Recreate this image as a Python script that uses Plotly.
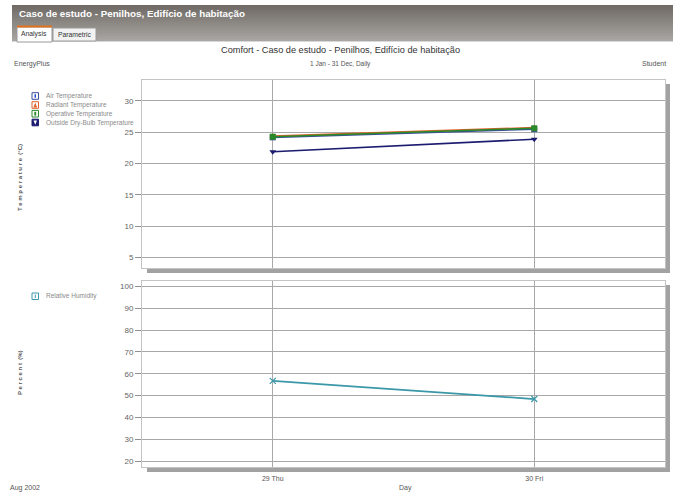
import plotly.graph_objects as go

W, H = 680, 497

# ---- data ----
days = ["29 Thu", "30 Fri"]
temp_names = ["Air Temperature", "Radiant Temperature", "Operative Temperature", "Outside Dry-Bulb Temperature"]
air_temp = [24.2, 25.5]
radiant_temp = [24.4, 25.75]
operative_temp = [24.3, 25.65]
outside_temp = [21.9, 23.9]
hum_names = ["Relative Humidity"]
humidity = [56.7, 48.4]
temp_ticks = [5, 10, 15, 20, 25, 30]
hum_ticks = [20, 30, 40, 50, 60, 70, 80, 90, 100]

temp_colors = ["#3b4f9a", "#e0602a", "#2a8a2a", "#1c1c70"]
temp_symbols = ["square", "triangle-up", "square", "triangle-down"]
hum_color = "#3a98a8"

def px(x):
    return x / W

def py(y):
    return 1 - y / H

fig = go.Figure()

temp_series = [air_temp, radiant_temp, operative_temp, outside_temp]
for name, vals, col, sym in zip(temp_names, temp_series, temp_colors, temp_symbols):
    fig.add_trace(go.Scatter(x=days, y=vals, name=name, mode="lines+markers",
                             line=dict(color=col, width=1.6),
                             marker=dict(symbol=sym, size=6, color=col),
                             xaxis="x", yaxis="y", showlegend=False))

fig.add_trace(go.Scatter(x=days, y=humidity, name=hum_names[0], mode="lines+markers",
                         line=dict(color=hum_color, width=1.8),
                         marker=dict(symbol="x-thin", size=6, color=hum_color,
                                     line=dict(color=hum_color, width=1.2)),
                         xaxis="x2", yaxis="y2", showlegend=False))

x0p, x1p = 142, 665
top_y0, top_y1 = 80, 268
bot_y0, bot_y1 = 281, 467

axis_common = dict(showline=True, mirror=True, linecolor="#c4c4c4", linewidth=1,
                   gridcolor="#a8a8a8", gridwidth=1, zeroline=False)

fig.update_layout(
    width=W, height=H,
    margin=dict(l=0, r=0, t=0, b=0),
    paper_bgcolor="white", plot_bgcolor="white",
    font=dict(family="Liberation Sans, Arial, sans-serif", color="#555555", size=8),
    xaxis=dict(domain=[px(x0p), px(x1p)], type="category", range=[-0.5, 1.5],
               showticklabels=False, ticks="", anchor="y", **axis_common),
    yaxis=dict(domain=[py(top_y1), py(top_y0)], range=[3.35, 33.35],
               tickvals=temp_ticks, ticks="outside", ticklen=6, tickcolor="#909090",
               tickfont=dict(size=8, color="#666666"), anchor="x", **axis_common),
    xaxis2=dict(domain=[px(x0p), px(x1p)], type="category", range=[-0.5, 1.5],
                ticks="", tickfont=dict(size=7, color="#555555"), anchor="y2",
                ticklabelstandoff=5, **axis_common),
    yaxis2=dict(domain=[py(bot_y1), py(bot_y0)], range=[17.25, 102.5],
                tickvals=hum_ticks, ticks="outside", ticklen=6, tickcolor="#909090",
                tickfont=dict(size=8, color="#666666"), anchor="x2", **axis_common),
)

shapes = []
# header gradient bar
hb_top, hb_bot = 5, 41
n = 18
c0 = (112, 107, 102)
c1 = (168, 165, 162)
for i in range(n):
    t = i / (n - 1)
    c = tuple(int(c0[k] + (c1[k] - c0[k]) * t) for k in range(3))
    ya = hb_top + (hb_bot - hb_top) * i / n
    yb = hb_top + (hb_bot - hb_top) * (i + 1) / n
    shapes.append(dict(type="rect", xref="paper", yref="paper",
                       x0=px(12), x1=px(673), y0=py(yb + 0.5), y1=py(ya),
                       fillcolor="rgb(%d,%d,%d)" % c, line=dict(width=0), layer="below"))
shapes.append(dict(type="line", xref="paper", yref="paper", x0=px(12), x1=px(673),
                   y0=py(41.5), y1=py(41.5), line=dict(color="#d8d8d8", width=1)))
# tabs
shapes.append(dict(type="rect", xref="paper", yref="paper", x0=px(17), x1=px(52),
                   y0=py(42), y1=py(27), fillcolor="white", line=dict(color="#9a9a9a", width=1)))
shapes.append(dict(type="line", xref="paper", yref="paper", x0=px(17), x1=px(52),
                   y0=py(26.5), y1=py(26.5), line=dict(color="#e0721e", width=2)))
shapes.append(dict(type="rect", xref="paper", yref="paper", x0=px(53), x1=px(96),
                   y0=py(41), y1=py(28), fillcolor="#f2f2f2", line=dict(color="#9a9a9a", width=1)))

# plot shadows
for (yt, yb) in [(top_y0, top_y1), (bot_y0, bot_y1)]:
    shapes.append(dict(type="rect", xref="paper", yref="paper", x0=px(147), x1=px(670),
                       y0=py(yb + 5), y1=py(yb + 0.5), fillcolor="#a2a2a2",
                       line=dict(width=0), layer="below"))
    shapes.append(dict(type="rect", xref="paper", yref="paper", x0=px(x1p + 0.5), x1=px(670),
                       y0=py(yb + 5), y1=py(yt + 4), fillcolor="#a2a2a2",
                       line=dict(width=0), layer="below"))

# manual legends
legend_rows_y = [96, 105, 113.7, 122.5]
annotations = []
for name, col, sym, yy in zip(temp_names, temp_colors, temp_symbols, legend_rows_y):
    fill = "#1c1c70" if name.startswith("Outside") else "white"
    shapes.append(dict(type="rect", xref="paper", yref="paper", x0=px(32), x1=px(38.5),
                       y0=py(yy + 3.3), y1=py(yy - 3.3), fillcolor=fill,
                       line=dict(color=col, width=1)))
    annotations.append(dict(x=px(44), y=py(yy), xref="paper", yref="paper", text=name,
                            showarrow=False, xanchor="left", yanchor="middle",
                            font=dict(size=6.5, color="#8a8a8a")))
shapes.append(dict(type="rect", xref="paper", yref="paper", x0=px(34.5), x1=px(36),
                   y0=py(97.8), y1=py(94.2), fillcolor="#2850c8", line=dict(width=0)))
shapes.append(dict(type="path", xref="paper", yref="paper",
                   path="M %f %f L %f %f L %f %f Z" % (px(33.3), py(107.5), px(37.2), py(107.5), px(35.25), py(102.8)),
                   fillcolor="#e0602a", line=dict(width=0)))
shapes.append(dict(type="rect", xref="paper", yref="paper", x0=px(34.3), x1=px(36.2),
                   y0=py(115.6), y1=py(111.8), fillcolor="#2a8a2a", line=dict(width=0)))
shapes.append(dict(type="path", xref="paper", yref="paper",
                   path="M %f %f L %f %f L %f %f Z" % (px(33.5), py(120.5), px(37.0), py(120.5), px(35.25), py(124.8)),
                   fillcolor="white", line=dict(width=0)))
shapes.append(dict(type="rect", xref="paper", yref="paper", x0=px(32), x1=px(38.5),
                   y0=py(299.5), y1=py(293), fillcolor="white",
                   line=dict(color=hum_color, width=1)))
shapes.append(dict(type="rect", xref="paper", yref="paper", x0=px(34.8), x1=px(35.8),
                   y0=py(298), y1=py(294.5), fillcolor=hum_color, line=dict(width=0)))
annotations.append(dict(x=px(44), y=py(296.2), xref="paper", yref="paper", text=hum_names[0],
                        showarrow=False, xanchor="left", yanchor="middle",
                        font=dict(size=6.5, color="#8a8a8a")))

# texts
annotations += [
    dict(x=px(17), y=py(14), text="<b>Caso de estudo - Penilhos, Edifício de habitação</b>",
         xanchor="left", yanchor="middle",
         font=dict(family="Liberation Sans, Arial, sans-serif", size=9.8, color="white")),
    dict(x=px(19), y=py(34.5), text="Analysis", xanchor="left", yanchor="middle",
         font=dict(size=6.8, color="#333333")),
    dict(x=px(55.5), y=py(34.5), text="Parametric", xanchor="left", yanchor="middle",
         font=dict(size=6.8, color="#333333")),
    dict(x=px(340), y=py(50), text="Comfort - Caso de estudo - Penilhos, Edifício de habitação",
         xanchor="center", yanchor="middle",
         font=dict(family="Liberation Sans, Arial, sans-serif", size=9.2, color="#333333")),
    dict(x=px(340), y=py(63.5), text="1 Jan - 31 Dec, Daily", xanchor="center", yanchor="middle",
         font=dict(size=6.5, color="#555555")),
    dict(x=px(12), y=py(64), text="EnergyPlus", xanchor="left", yanchor="middle",
         font=dict(size=7, color="#555555")),
    dict(x=px(668), y=py(64), text="Student", xanchor="right", yanchor="middle",
         font=dict(size=7, color="#555555")),
    dict(x=px(20), y=py(178), text="<b>T e m p e r a t u r e  (°C)</b>", textangle=-90,
         xanchor="center", yanchor="middle", font=dict(size=6, color="#555555")),
    dict(x=px(20), y=py(373), text="<b>P e r c e n t  (%)</b>", textangle=-90,
         xanchor="center", yanchor="middle", font=dict(size=6, color="#555555")),
    dict(x=px(25), y=py(488), text="Aug 2002", xanchor="center", yanchor="middle",
         font=dict(size=7, color="#555555")),
    dict(x=px(405), y=py(488), text="Day", xanchor="center", yanchor="middle",
         font=dict(size=7, color="#555555")),
]
for a in annotations:
    a.setdefault("xref", "paper")
    a.setdefault("yref", "paper")
    a.setdefault("showarrow", False)

fig.update_layout(shapes=shapes, annotations=annotations)
fig.write_html("out.html")
